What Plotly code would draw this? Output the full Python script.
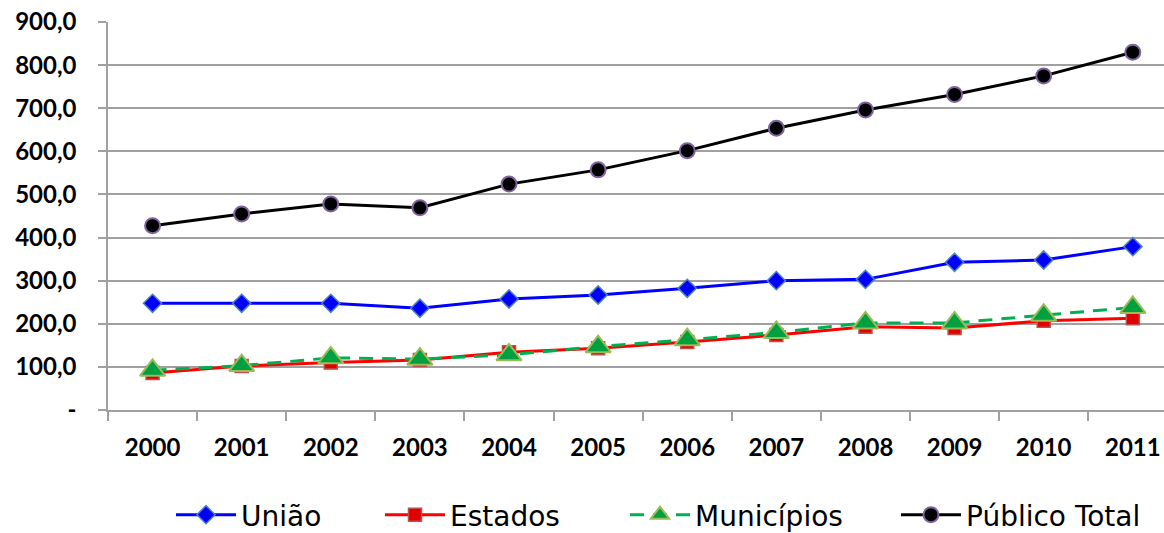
import plotly.graph_objects as go

years = ["2000","2001","2002","2003","2004","2005","2006","2007","2008","2009","2010","2011"]
uniao = [247.5, 247.5, 247.5, 236, 257.5, 266.8, 282.3, 300, 303, 342.6, 348, 379]
estados = [86, 102, 110, 116, 134, 143, 158, 174, 193, 190, 207, 213]
municipios = [92, 103, 121, 118, 128, 147, 163, 180, 202, 202, 220, 238]
publico = [427.6, 454.8, 478, 469, 524, 557, 601.6, 653.6, 696, 732, 775, 830]

ytick_vals = [0, 100, 200, 300, 400, 500, 600, 700, 800, 900]
ytick_text = ["-", "100,0", "200,0", "300,0", "400,0", "500,0", "600,0", "700,0", "800,0", "900,0"]

# page x where each legend text begins
legend_text_px = [243, 452, 697, 968]

W, H = 1164, 533
L, T, B = 108, 22, 123
plot_w = W - L
plot_h = H - T - B

fig = go.Figure()
fig.add_trace(go.Scatter(x=years, y=uniao, name="União", mode="lines+markers", legend="legend",
    line=dict(color="#0000FF", width=3),
    marker=dict(symbol="diamond", size=14, color="#0000FF", line=dict(color="#4F81BD", width=1.5))))
fig.add_trace(go.Scatter(x=years, y=estados, name="Estados", mode="lines+markers", legend="legend2",
    line=dict(color="#FF0000", width=3),
    marker=dict(symbol="square", size=13, color="#E00000", line=dict(color="#C0504D", width=1.5))))
fig.add_trace(go.Scatter(x=years, y=municipios, name="Municípios", mode="lines+markers", legend="legend3",
    line=dict(color="#00B050", width=3, dash="14px,9px"),
    marker=dict(symbol="triangle-up", size=22, color="#00A040", line=dict(color="#9BBB59", width=2))))
fig.add_trace(go.Scatter(x=years, y=publico, name="Público Total", mode="lines+markers", legend="legend4",
    line=dict(color="#000000", width=3),
    marker=dict(symbol="circle", size=15, color="#000000", line=dict(color="#8064A2", width=2))))

def leg(px):
    return dict(orientation="h", x=(px - 72 - L) / plot_w, xanchor="left",
                y=-(515 - (H - B)) / plot_h, yanchor="middle",
                font=dict(size=28, family="DejaVu Sans", color="#000000"), itemwidth=60,
                bgcolor="rgba(0,0,0,0)")

fig.update_layout(
    width=W, height=H,
    margin=dict(l=L, r=0, t=T, b=B, autoexpand=False),
    paper_bgcolor="white", plot_bgcolor="white",
    font=dict(family="Lato", color="#000000"),
    showlegend=True,
    legend=leg(legend_text_px[0]), legend2=leg(legend_text_px[1]),
    legend3=leg(legend_text_px[2]), legend4=leg(legend_text_px[3]),
)
fig.update_xaxes(type="category", range=[-0.5, 11.35], showgrid=False, automargin=False,
    showline=True, linecolor="#A0A0A0", linewidth=1.5,
    ticks="outside", ticklen=9, tickcolor="#A0A0A0", tickwidth=1.5, tickson="boundaries",
    tickfont=dict(size=24, family="Lato", color="#000000", weight="bold"),
    ticklabelstandoff=15)
fig.update_yaxes(range=[0, 900], tickvals=ytick_vals, ticktext=ytick_text, automargin=False,
    showgrid=True, gridcolor="#A0A0A0", gridwidth=1.5,
    showline=True, linecolor="#A0A0A0", linewidth=1.5,
    ticks="outside", ticklen=8, tickcolor="#A0A0A0", tickwidth=1.5,
    tickfont=dict(size=24, family="Lato", color="#000000", weight="bold"),
    ticklabelstandoff=17, zeroline=False)

fig.write_html("out.html", config={"displayModeBar": False},
               post_script="document.body.style.margin='0px';document.body.style.overflow='hidden';")
